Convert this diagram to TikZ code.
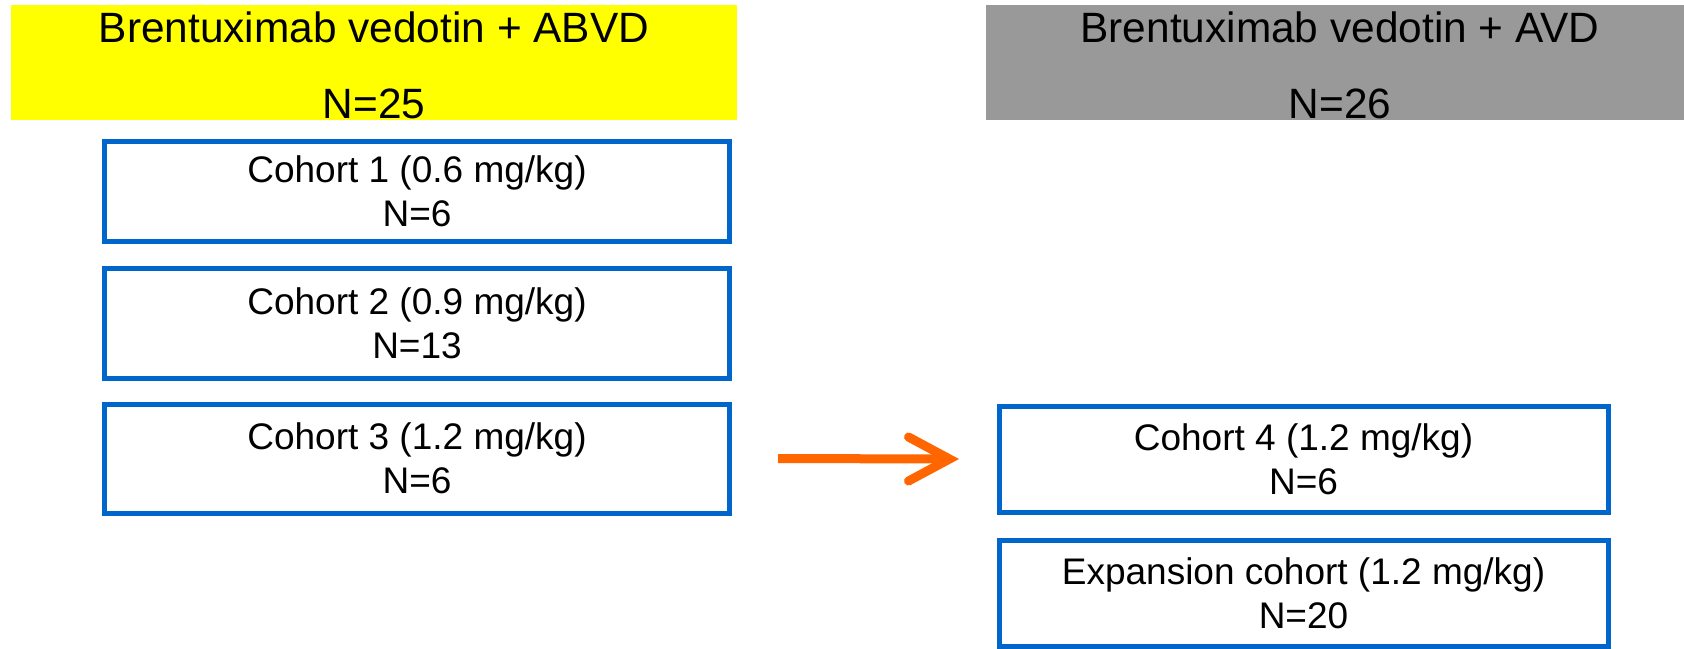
\documentclass[tikz,border=0pt]{standalone}
\usepackage{fontspec}
\setmainfont{Liberation Sans}
\definecolor{armyellow}{HTML}{FFFF00}
\definecolor{armgray}{HTML}{999999}
\definecolor{cohortblue}{HTML}{0066CC}
\definecolor{arroworange}{HTML}{FF6600}
\tikzset{
  armbox/.style={draw=none, minimum height=115pt, inner sep=0pt},
  armtext/.style={anchor=base, inner sep=0pt, font=\fontsize{42.4}{50}\selectfont},
  cohortbox/.style={draw=cohortblue, line width=5pt, fill=white, align=center,
    minimum height=100pt, inner sep=0pt, font=\fontsize{37}{44}\selectfont},
  flowshaft/.style={draw=arroworange, line width=9pt},
  flowhead/.style={draw=arroworange, line width=9pt, line cap=round, line join=miter, miter limit=10},
}
\begin{document}
\begin{tikzpicture}[x=1pt, y=-1pt]
  \useasboundingbox (0,0) rectangle (1684,648);

  % treatment arm headers
  \node[armbox, fill=armyellow, minimum width=726pt] (armA) at (374,62.5) {};
  \node[armtext] (armAname) at (374,42) {Brentuximab vedotin + ABVD};
  \node[armtext] (armAn) at (374,118) {N=25};

  \node[armbox, fill=armgray, minimum width=698pt] (armB) at (1335,62.5) {};
  \node[armtext] (armBname) at (1340,42) {Brentuximab vedotin + AVD};
  \node[armtext] (armBn) at (1340,118) {N=26};

  % dose cohorts, ABVD arm
  \node[cohortbox, minimum width=625pt] (c1) at (417,191) {Cohort 1 (0.6 mg/kg)\\N=6};
  \node[cohortbox, minimum width=625pt, minimum height=110pt] (c2) at (417,323) {Cohort 2 (0.9 mg/kg)\\N=13};
  \node[cohortbox, minimum width=625pt, minimum height=109pt] (c3) at (417,458.5) {Cohort 3 (1.2 mg/kg)\\N=6};

  % dose cohorts, AVD arm
  \node[cohortbox, minimum width=609pt, minimum height=106pt] (c4) at (1303.5,459) {Cohort 4 (1.2 mg/kg)\\N=6};
  \node[cohortbox, minimum width=609pt, minimum height=106pt] (c5) at (1303.5,593) {Expansion cohort (1.2 mg/kg)\\N=20};

  % transition arrow
  \draw[flowshaft] ([xshift=46pt]c3.east) -- ([xshift=-50pt]c4.west);
  \coordinate (tip) at ([xshift=-47pt]c4.west);
  \draw[flowhead] ([xshift=-88pt,yshift=22pt]c4.west) -- (tip) -- ([xshift=-88pt,yshift=-22pt]c4.west);
\end{tikzpicture}
\end{document}
